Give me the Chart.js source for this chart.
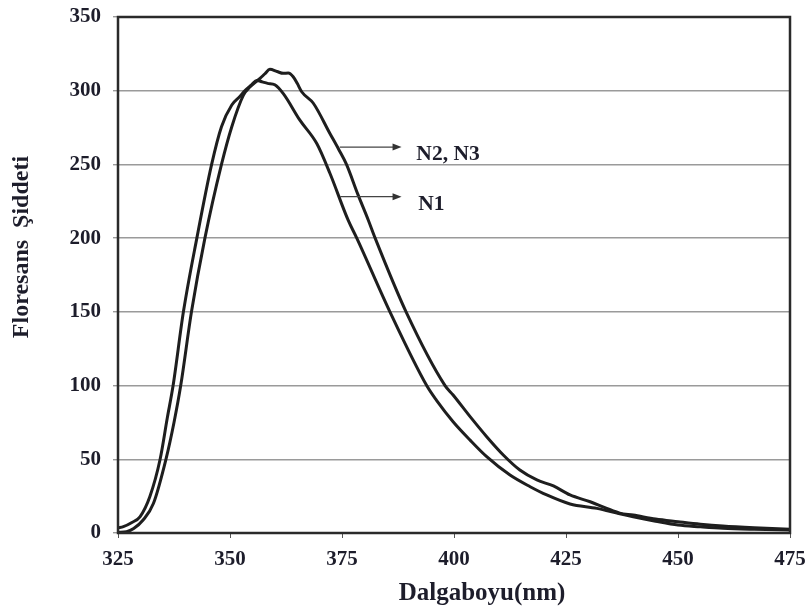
<!DOCTYPE html>
<html lang="tr">
<head>
    <meta charset="UTF-8">
    <title>Floresans Şiddeti</title>
    <script src="https://cdn.jsdelivr.net/npm/chart.js"></script>
    <style>
        body {
            margin: 0;
            padding: 0;
            background: #ffffff;
        }
        #chart {
            display: block;
        }
    </style>
</head>
<body>
    <canvas id="chart" width="811" height="614"></canvas>

    <script>
        // Data (wavelength in nm, intensity)
        const wavelengthN1 = [325, 326.2, 328, 329.9, 332.1, 334.4, 336, 337.3, 339.6, 342.6, 345.9, 348.1, 350.4, 352.2, 353.3, 354.8, 356, 357.2, 358.4, 360, 361.9, 365.6, 369.4, 372.3, 376.4, 378.3, 385.7, 393.9, 396.1, 399.8, 403.6, 407.3, 412.5, 417, 420.7, 425.9, 431.9, 437, 440, 445, 450, 455, 460, 467, 475];
        const intensityN1  = [3.5, 4.3, 7, 11, 24.6, 50, 78, 100, 150, 200, 250, 275.6, 290.3, 296, 300, 304, 307, 306, 305, 304, 298, 280, 264, 244, 212, 200, 150, 100, 90, 75.5, 63, 51.8, 39.3, 31.4, 25.8, 19.7, 16.7, 13, 11, 8, 5.4, 4.2, 3.2, 2.5, 2];

        const wavelengthN2 = [325, 326.9, 328.5, 330.6, 332.9, 335.7, 337.5, 339, 341.4, 344.4, 348.1, 350.4, 353, 354.5, 356.7, 357.8, 358.9, 360.5, 361.9, 363, 364.1, 365, 366, 368.6, 372.3, 374.3, 376, 378.5, 380.9, 382.4, 389.3, 398, 399.8, 403.6, 407.3, 411, 414.7, 418.5, 422.2, 425.9, 430.4, 434.1, 437, 440, 445, 450, 455, 460, 467, 475];
        const intensityN2  = [0.5, 0.9, 3, 8.8, 20, 50, 75, 100, 150, 200, 250, 275.6, 297, 302.7, 308.4, 311.5, 314.5, 313, 311.8, 312, 309.5, 305, 299.3, 291.5, 271, 260, 250, 230, 212, 200, 150, 100, 93.6, 78.9, 65.3, 52.9, 42.7, 36, 31.9, 25.8, 21.2, 16.7, 13.5, 12.2, 9.5, 7.7, 6, 4.7, 3.5, 2.5];

        const xTicks = [325, 350, 375, 400, 425, 450, 475];
        const yTicks = [0, 50, 100, 150, 200, 250, 300, 350];

        const toPoints = (xs, ys) => xs.map((x, i) => ({ x: x, y: ys[i] }));

        const textColor = "#1d1d2b";
        const serif = "'Liberation Serif', 'Times New Roman', serif";

        // arrows + labels pointing at the curves (in data units)
        const curveLabels = [
            { text: "N2, N3", y: 261.8, from: 374.5, to: 388.3, textX: 391.6 },
            { text: "N1", y: 228.1, from: 374.6, to: 388.3, textX: 392.0 }
        ];

        const extrasPlugin = {
            id: "extras",
            afterDraw(chart) {
                const ctx = chart.ctx;
                const area = chart.chartArea;
                const xs = chart.scales.x;
                const ys = chart.scales.y;
                ctx.save();

                // frame around the plot
                ctx.strokeStyle = "#2a2a2a";
                ctx.lineWidth = 2.5;
                ctx.strokeRect(area.left, area.top, area.right - area.left, area.bottom - area.top);

                // arrows and labels
                curveLabels.forEach(lbl => {
                    const py = ys.getPixelForValue(lbl.y);
                    const x1 = xs.getPixelForValue(lbl.from);
                    const x2 = xs.getPixelForValue(lbl.to);
                    ctx.strokeStyle = "#444";
                    ctx.lineWidth = 1.2;
                    ctx.beginPath();
                    ctx.moveTo(x1, py);
                    ctx.lineTo(x2 - 7, py);
                    ctx.stroke();
                    ctx.fillStyle = "#333";
                    ctx.beginPath();
                    ctx.moveTo(x2, py);
                    ctx.lineTo(x2 - 9, py - 3.5);
                    ctx.lineTo(x2 - 9, py + 3.5);
                    ctx.closePath();
                    ctx.fill();

                    ctx.fillStyle = textColor;
                    ctx.font = "bold 21.5px " + serif;
                    ctx.textAlign = "left";
                    ctx.textBaseline = "alphabetic";
                    ctx.fillText(lbl.text, xs.getPixelForValue(lbl.textX), py + 13);
                });

                // x axis title (sits right of centre in the original)
                ctx.fillStyle = textColor;
                ctx.font = "bold 25px " + serif;
                ctx.textAlign = "center";
                ctx.textBaseline = "alphabetic";
                ctx.fillText("Dalgaboyu(nm)", 482, 600);

                // y axis title
                ctx.translate(22, 247);
                ctx.rotate(-Math.PI / 2);
                ctx.font = "bold 24px " + serif;
                ctx.textAlign = "center";
                ctx.textBaseline = "middle";
                ctx.fillText("Floresans  Şiddeti", 0, 0);
                ctx.restore();
            }
        };

        const ctx = document.getElementById("chart").getContext("2d");
        new Chart(ctx, {
            type: "line",
            data: {
                datasets: [
                    {
                        label: "N1",
                        data: toPoints(wavelengthN1, intensityN1),
                        borderColor: "#1e1e1e",
                        borderWidth: 3,
                        pointRadius: 0,
                        fill: false,
                        cubicInterpolationMode: "monotone"
                    },
                    {
                        label: "N2, N3",
                        data: toPoints(wavelengthN2, intensityN2),
                        borderColor: "#1e1e1e",
                        borderWidth: 3,
                        pointRadius: 0,
                        fill: false,
                        cubicInterpolationMode: "monotone"
                    }
                ]
            },
            options: {
                responsive: false,
                animation: false,
                events: [],
                layout: { padding: { top: 17, right: 21, left: 0, bottom: 0 } },
                plugins: {
                    legend: { display: false },
                    tooltip: { enabled: false }
                },
                scales: {
                    x: {
                        type: "linear",
                        min: 325,
                        max: 475,
                        afterBuildTicks: axis => { axis.ticks = xTicks.map(v => ({ value: v })); },
                        afterFit: axis => {
                            axis.height = 81;
                            axis.paddingLeft = 0;
                            axis.paddingRight = 0;
                        },
                        ticks: {
                            color: textColor,
                            padding: 9,
                            maxRotation: 0,
                            font: { family: serif, size: 21, weight: "bold" }
                        },
                        grid: {
                            drawOnChartArea: false,
                            drawTicks: true,
                            tickLength: 5,
                            color: "#555"
                        },
                        border: { color: "#333", width: 2 }
                    },
                    y: {
                        min: 0,
                        max: 350,
                        afterBuildTicks: axis => { axis.ticks = yTicks.map(v => ({ value: v })); },
                        afterFit: axis => {
                            axis.width = 118;
                            axis.paddingTop = 0;
                            axis.paddingBottom = 0;
                        },
                        ticks: {
                            color: textColor,
                            padding: 12,
                            font: { family: serif, size: 21, weight: "bold" }
                        },
                        grid: {
                            color: "#9a9a9a",
                            lineWidth: 1.4,
                            tickLength: 5
                        },
                        border: { color: "#555", width: 2 }
                    }
                }
            },
            plugins: [extrasPlugin]
        });
    </script>
</body>
</html>
